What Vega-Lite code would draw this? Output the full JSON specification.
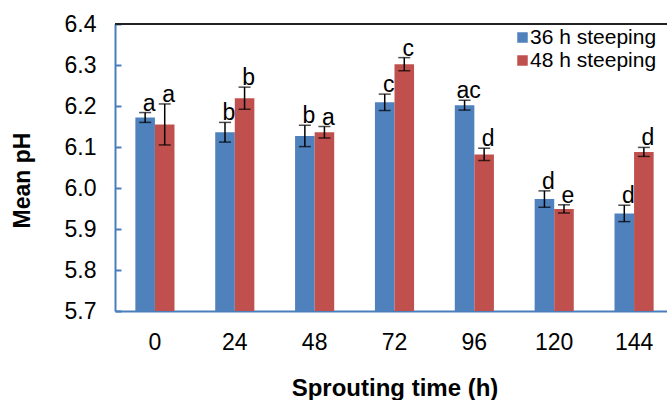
{
  "$schema": "https://vega.github.io/schema/vega-lite/v6.json",
  "width": 552,
  "height": 287,
  "autosize": {"type": "none"},
  "padding": {"left": 115, "top": 24, "right": 0, "bottom": 89},
  "config": {
    "font": "Liberation Sans",
    "view": {"stroke": null},
    "axis": {"grid": false, "labelColor": "#000", "titleColor": "#000", "labelFont": "Liberation Sans", "titleFont": "Liberation Sans"},
    "legend": {"labelFont": "Liberation Sans"}
  },
  "data": {
    "values": [
      {"time": "0", "steeping": "36 h steeping", "mean": 6.172, "lo": 6.160, "hi": 6.184, "letter": "a"},
      {"time": "0", "steeping": "48 h steeping", "mean": 6.155, "lo": 6.105, "hi": 6.205, "letter": "a"},
      {"time": "24", "steeping": "36 h steeping", "mean": 6.136, "lo": 6.112, "hi": 6.160, "letter": "b"},
      {"time": "24", "steeping": "48 h steeping", "mean": 6.219, "lo": 6.192, "hi": 6.246, "letter": "b"},
      {"time": "48", "steeping": "36 h steeping", "mean": 6.127, "lo": 6.101, "hi": 6.153, "letter": "b"},
      {"time": "48", "steeping": "48 h steeping", "mean": 6.136, "lo": 6.122, "hi": 6.150, "letter": "a"},
      {"time": "72", "steeping": "36 h steeping", "mean": 6.209, "lo": 6.189, "hi": 6.229, "letter": "c"},
      {"time": "72", "steeping": "48 h steeping", "mean": 6.302, "lo": 6.286, "hi": 6.318, "letter": "c"},
      {"time": "96", "steeping": "36 h steeping", "mean": 6.202, "lo": 6.190, "hi": 6.214, "letter": "ac"},
      {"time": "96", "steeping": "48 h steeping", "mean": 6.082, "lo": 6.067, "hi": 6.097, "letter": "d"},
      {"time": "120", "steeping": "36 h steeping", "mean": 5.973, "lo": 5.953, "hi": 5.993, "letter": "d"},
      {"time": "120", "steeping": "48 h steeping", "mean": 5.949, "lo": 5.939, "hi": 5.959, "letter": "e"},
      {"time": "144", "steeping": "36 h steeping", "mean": 5.938, "lo": 5.918, "hi": 5.958, "letter": "d"},
      {"time": "144", "steeping": "48 h steeping", "mean": 6.088, "lo": 6.077, "hi": 6.099, "letter": "d"}
    ]
  },
  "encoding": {
    "x": {
      "field": "time",
      "type": "nominal",
      "sort": ["0", "24", "48", "72", "96", "120", "144"],
      "scale": {"range": [0, 559], "paddingInner": 0.51, "paddingOuter": 0.255},
      "axis": {
        "title": "Sprouting time (h)",
        "titleFontSize": 24,
        "titleFontWeight": "bold",
        "labelFontSize": 23,
        "labelAngle": 0,
        "ticks": false,
        "domainColor": "#4A7EBB",
        "domainWidth": 2,
        "labelPadding": 20,
        "titlePadding": 22
      }
    },
    "xOffset": {"field": "steeping", "type": "nominal", "scale": {"paddingInner": 0, "paddingOuter": 0}}
  },
  "layer": [
    {
      "mark": {"type": "bar"},
      "encoding": {
        "y": {
          "field": "mean",
          "type": "quantitative",
          "scale": {"domain": [5.7, 6.4], "zero": false, "nice": false},
          "axis": {
            "values": [5.7, 5.8, 5.9, 6.0, 6.1, 6.2, 6.3, 6.4],
            "format": ".1f",
            "title": "Mean pH",
            "titleFontSize": 23,
            "titleFontWeight": "bold",
            "labelFontSize": 23,
            "tickSize": -6,
            "tickWidth": 2,
            "tickColor": "#4A7EBB",
            "domainColor": "#4A7EBB",
            "domainWidth": 2,
            "labelPadding": 25,
            "titlePadding": 30,
            "titleY": 156
          }
        },
        "y2": {"datum": 5.7},
        "color": {
          "field": "steeping",
          "type": "nominal",
          "scale": {"domain": ["36 h steeping", "48 h steeping"], "range": ["#4F81BD", "#C0504D"]},
          "legend": {
            "orient": "none",
            "legendX": 397,
            "legendY": 3,
            "title": null,
            "symbolType": "square",
            "symbolSize": 110,
            "symbolStrokeWidth": 0,
            "labelFontSize": 21,
            "labelColor": "#000",
            "labelOffset": -3,
            "rowPadding": 1
          }
        }
      }
    },
    {
      "mark": {"type": "rule", "color": "#000", "strokeWidth": 1.5},
      "encoding": {
        "y": {"field": "lo", "type": "quantitative"},
        "y2": {"field": "hi"}
      }
    },
    {
      "mark": {"type": "tick", "color": "#000", "size": 12, "thickness": 1.5},
      "encoding": {"y": {"field": "lo", "type": "quantitative"}}
    },
    {
      "mark": {"type": "tick", "color": "#000", "size": 12, "thickness": 1.5},
      "encoding": {"y": {"field": "hi", "type": "quantitative"}}
    },
    {
      "mark": {"type": "text", "fontSize": 23, "baseline": "middle", "dy": -9, "dx": 4, "color": "#000"},
      "encoding": {
        "y": {"field": "hi", "type": "quantitative"},
        "text": {"field": "letter"}
      }
    },
    {
      "data": {"values": [{"top": 6.4}]},
      "mark": {"type": "rule", "color": "#222", "strokeWidth": 2},
      "encoding": {"y": {"field": "top", "type": "quantitative"}, "x": null, "xOffset": null}
    }
  ]
}
